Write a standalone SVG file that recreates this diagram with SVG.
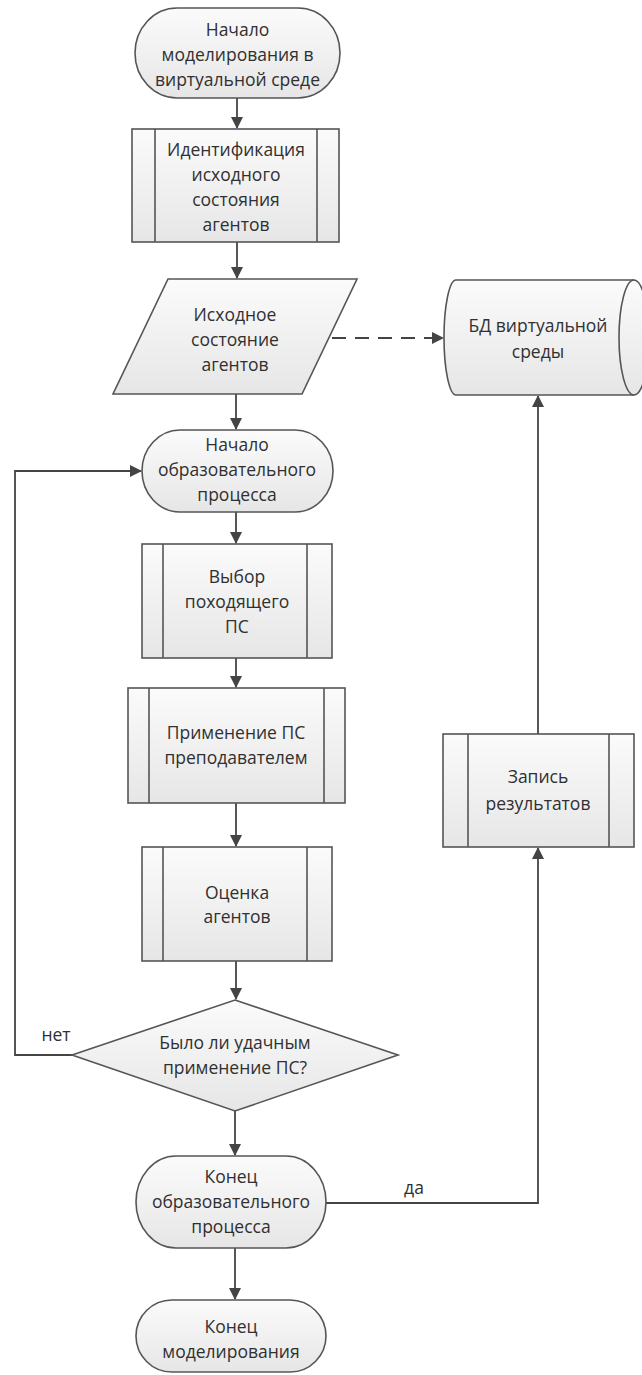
<svg xmlns="http://www.w3.org/2000/svg" width="642" height="1375" viewBox="0 0 642 1375">
<style>
.n{fill:url(#g);stroke:#555;stroke-width:1.6}
.i{stroke:#555;stroke-width:1.6;fill:none}
.t{font-family:"Open Sans","Liberation Sans",sans-serif;font-size:17.5px;fill:#303030;text-anchor:middle}
.c{stroke:#444;stroke-width:1.8;fill:none}
.d{stroke:#444;stroke-width:1.8;fill:none;stroke-dasharray:14 9}
</style>
<defs>
<linearGradient id="g" x1="0" y1="0" x2="0" y2="1"><stop offset="0" stop-color="#fbfbfb"/><stop offset="1" stop-color="#e6e6e6"/></linearGradient>
<marker id="a" markerWidth="12" markerHeight="12" refX="11" refY="6" orient="auto" markerUnits="userSpaceOnUse"><path d="M0,0 L12,6 L0,12 Z" fill="#444"/></marker>
</defs>
<rect width="642" height="1375" fill="#fff"/>
<g id="connectors">
<path class="c" d="M237,98 V128" marker-end="url(#a)"/>
<path class="c" d="M237,242 V278" marker-end="url(#a)"/>
<path class="c" d="M236,394 V429" marker-end="url(#a)"/>
<path class="c" d="M236,512 V543" marker-end="url(#a)"/>
<path class="c" d="M236,658 V687" marker-end="url(#a)"/>
<path class="c" d="M236,803 V846" marker-end="url(#a)"/>
<path class="c" d="M236,961 V999" marker-end="url(#a)"/>
<path class="c" d="M235,1111 V1155" marker-end="url(#a)"/>
<path class="c" d="M235,1248 V1299" marker-end="url(#a)"/>
<path class="d" d="M332,338 H443" marker-end="url(#a)"/>
<path class="c" d="M72,1055 H15 V471 H141" marker-end="url(#a)"/>
<path class="c" d="M326,1203 H538 V848" marker-end="url(#a)"/>
<path class="c" d="M538,734 V396" marker-end="url(#a)"/>
<text class="t" x="56" y="1041">нет</text>
<text class="t" x="414" y="1194">да</text>
</g>
<g id="start">
<rect class="n" x="135" y="8" width="205" height="90" rx="42" ry="45"/>
<text class="t" x="237.5" y="36">Начало</text>
<text class="t" x="237.5" y="61">моделирования в</text>
<text class="t" x="237.5" y="86">виртуальной среде</text>
</g>
<g id="ident">
<rect class="n" x="132" y="129" width="207" height="113"/>
<path class="i" d="M155,129 V242 M317,129 V242"/>
<text class="t" x="236" y="156">Идентификация</text>
<text class="t" x="236" y="181">исходного</text>
<text class="t" x="236" y="206">состояния</text>
<text class="t" x="236" y="231">агентов</text>
</g>
<g id="initstate">
<path class="n" d="M168,279 H357 L302,394 H113 Z"/>
<text class="t" x="235" y="321">Исходное</text>
<text class="t" x="235" y="346">состояние</text>
<text class="t" x="235" y="371">агентов</text>
</g>
<g id="db">
<path class="n" d="M456,280 H634 A15,57.5 0 0 1 634,395 H456 A12,57.5 0 0 1 456,280 Z"/>
<path class="i" d="M634,280 A15,57.5 0 0 0 634,395"/>
<text class="t" x="538" y="332">БД виртуальной</text>
<text class="t" x="538" y="358">среды</text>
</g>
<g id="eduStart">
<rect class="n" x="142" y="430" width="191" height="82" rx="38" ry="41"/>
<text class="t" x="237" y="451">Начало</text>
<text class="t" x="237" y="476">образовательного</text>
<text class="t" x="237" y="501">процесса</text>
</g>
<g id="choose">
<rect class="n" x="142" y="544" width="190" height="114"/>
<path class="i" d="M163,544 V658 M307,544 V658"/>
<text class="t" x="237" y="583">Выбор</text>
<text class="t" x="237" y="608">походящего</text>
<text class="t" x="237" y="633">ПС</text>
</g>
<g id="apply">
<rect class="n" x="128" y="688" width="217" height="115"/>
<path class="i" d="M149,688 V803 M324,688 V803"/>
<text class="t" x="236" y="739">Применение ПС</text>
<text class="t" x="236" y="764">преподавателем</text>
</g>
<g id="assess">
<rect class="n" x="142" y="847" width="190" height="114"/>
<path class="i" d="M163,847 V961 M307,847 V961"/>
<text class="t" x="237" y="899">Оценка</text>
<text class="t" x="237" y="923">агентов</text>
</g>
<g id="decision">
<path class="n" d="M235,1000 L398,1055 L235,1111 L72,1055 Z"/>
<text class="t" x="235" y="1049">Было ли удачным</text>
<text class="t" x="235" y="1074">применение ПС?</text>
</g>
<g id="eduEnd">
<rect class="n" x="136" y="1156" width="190" height="92" rx="40" ry="46"/>
<text class="t" x="231" y="1183">Конец</text>
<text class="t" x="231" y="1208">образовательного</text>
<text class="t" x="231" y="1233">процесса</text>
</g>
<g id="end">
<rect class="n" x="136" y="1300" width="190" height="72" rx="36" ry="36"/>
<text class="t" x="231" y="1333">Конец</text>
<text class="t" x="231" y="1358">моделирования</text>
</g>
<g id="record">
<rect class="n" x="443" y="734" width="191" height="113"/>
<path class="i" d="M468,734 V847 M609,734 V847"/>
<text class="t" x="538" y="783">Запись</text>
<text class="t" x="538" y="810">результатов</text>
</g>
</svg>
